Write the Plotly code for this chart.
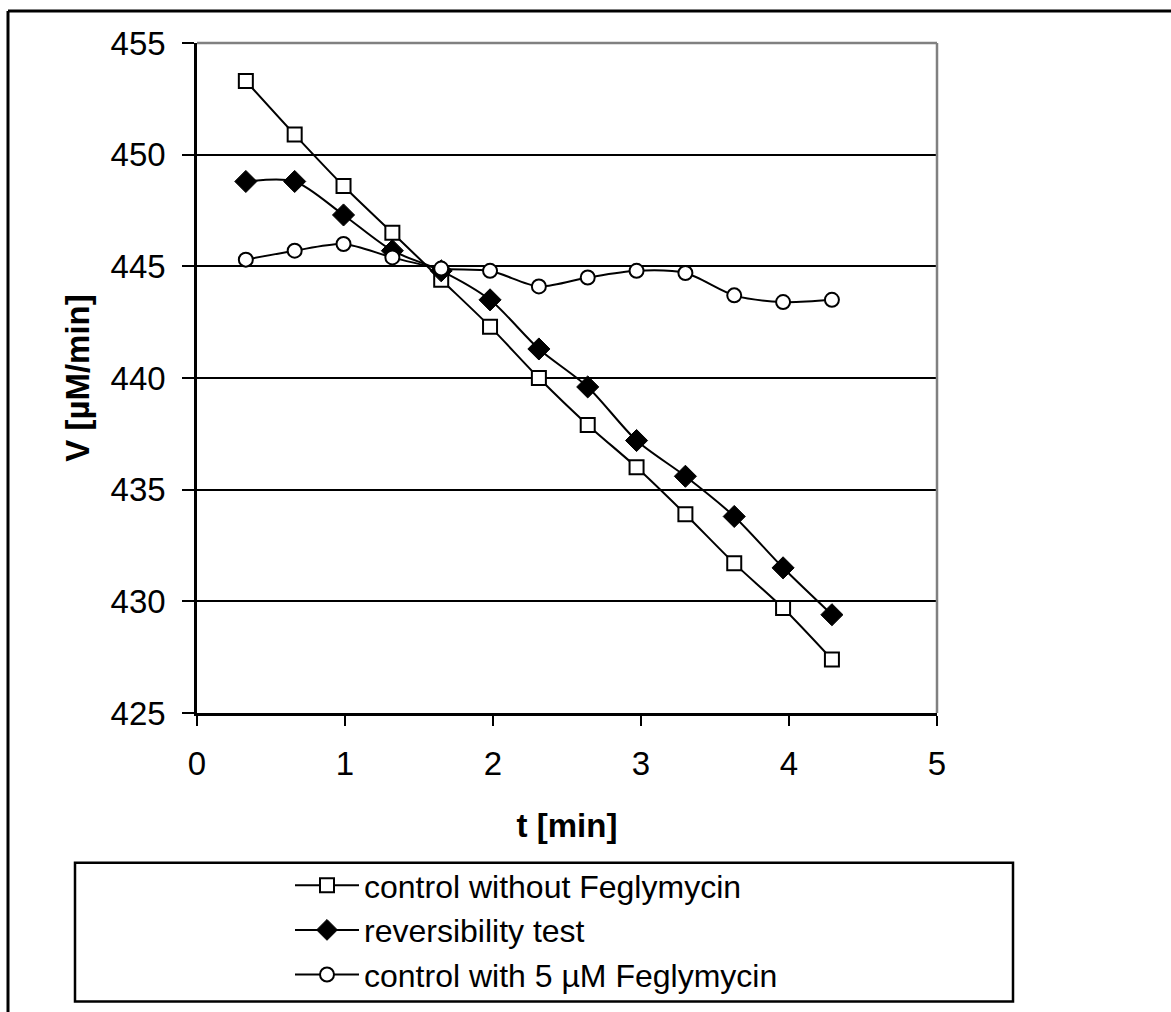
import plotly.graph_objects as go

# Time points (min) and reaction rates V (µM/min)
t_min = [0.33, 0.66, 0.99, 1.32, 1.65, 1.98, 2.31, 2.64, 2.97, 3.30, 3.63, 3.96, 4.29]
v_control = [453.3, 450.9, 448.6, 446.5, 444.4, 442.3, 440.0, 437.9, 436.0, 433.9, 431.7, 429.7, 427.4]
v_reversibility = [448.8, 448.8, 447.3, 445.7, 444.8, 443.5, 441.3, 439.6, 437.2, 435.6, 433.8, 431.5, 429.4]
v_feglymycin = [445.3, 445.7, 446.0, 445.4, 444.9, 444.8, 444.1, 444.5, 444.8, 444.7, 443.7, 443.4, 443.5]

series_names = ["control without Feglymycin", "reversibility test", "control with 5 µM Feglymycin"]

W, H = 1171, 1012
L, R, T, B = 197, 937, 43, 714  # plot-area edges in pixels


def px(x):
    return (x - L) / (R - L)


def py(y):
    return (B - y) / (B - T)


FONT = "Liberation Sans, Arial, sans-serif"

fig = go.Figure()
line = dict(color="black", width=2, shape="spline", smoothing=0.8)
fig.add_trace(go.Scatter(
    x=t_min, y=v_control, name=series_names[0], mode="lines+markers", line=line,
    marker=dict(symbol="square", size=14, color="white", line=dict(color="black", width=2)),
))
fig.add_trace(go.Scatter(
    x=t_min, y=v_reversibility, name=series_names[1], mode="lines+markers", line=line,
    marker=dict(symbol="diamond", size=17, color="black", line=dict(color="black", width=1)),
))
fig.add_trace(go.Scatter(
    x=t_min, y=v_feglymycin, name=series_names[2], mode="lines+markers", line=line,
    marker=dict(symbol="circle", size=14, color="white", line=dict(color="black", width=2)),
))

shapes = [
    # grey frame on top and right of the plot area
    dict(type="line", xref="paper", yref="paper", x0=0, x1=1, y0=1, y1=1,
         line=dict(color="#808080", width=2.5)),
    dict(type="line", xref="paper", yref="paper", x0=1, x1=1, y0=0, y1=1,
         line=dict(color="#808080", width=2.5)),
    # outer chart frame (top and left edges)
    dict(type="line", xref="paper", yref="paper", x0=px(8), x1=px(W + 5), y0=py(11), y1=py(11),
         line=dict(color="black", width=3)),
    dict(type="line", xref="paper", yref="paper", x0=px(8), x1=px(8), y0=py(11), y1=py(H + 5),
         line=dict(color="black", width=3)),
    # legend box
    dict(type="rect", xref="paper", yref="paper", x0=px(75), x1=px(1013), y0=py(864), y1=py(1003),
         line=dict(color="black", width=2.5), fillcolor="rgba(0,0,0,0)"),
]

fig.update_layout(
    width=W, height=H,
    margin=dict(l=L, r=W - R, t=T, b=H - B, pad=0),
    paper_bgcolor="white", plot_bgcolor="white",
    font=dict(family=FONT, color="black", size=33),
    showlegend=True,
    legend=dict(
        x=px(290), y=py(1002), xanchor="left", yanchor="bottom",
        bgcolor="rgba(0,0,0,0)", borderwidth=0,
        font=dict(family=FONT, size=32, color="black"),
        itemwidth=64, tracegroupgap=0,
    ),
    shapes=shapes,
    xaxis=dict(
        range=[0, 5], tickvals=[0, 1, 2, 3, 4, 5], ticks="outside", ticklen=10, tickwidth=2,
        tickcolor="black", showline=True, linecolor="black", linewidth=2.5, showgrid=False,
        zeroline=False, tickfont=dict(size=33), ticklabelstandoff=10,
        title=dict(text="<b>t [min]</b>", font=dict(size=33), standoff=33),
    ),
    yaxis=dict(
        range=[425, 455], tickvals=[425, 430, 435, 440, 445, 450, 455], ticks="outside",
        ticklen=12, tickwidth=2, tickcolor="black", showline=True, linecolor="black",
        linewidth=2.5, showgrid=True, gridcolor="black", gridwidth=2, zeroline=False,
        tickfont=dict(size=33), ticklabelstandoff=10,
        title=dict(text="<b>V [µM/min]</b>", font=dict(size=33), standoff=12),
    ),
)

fig.write_html("out.html")
